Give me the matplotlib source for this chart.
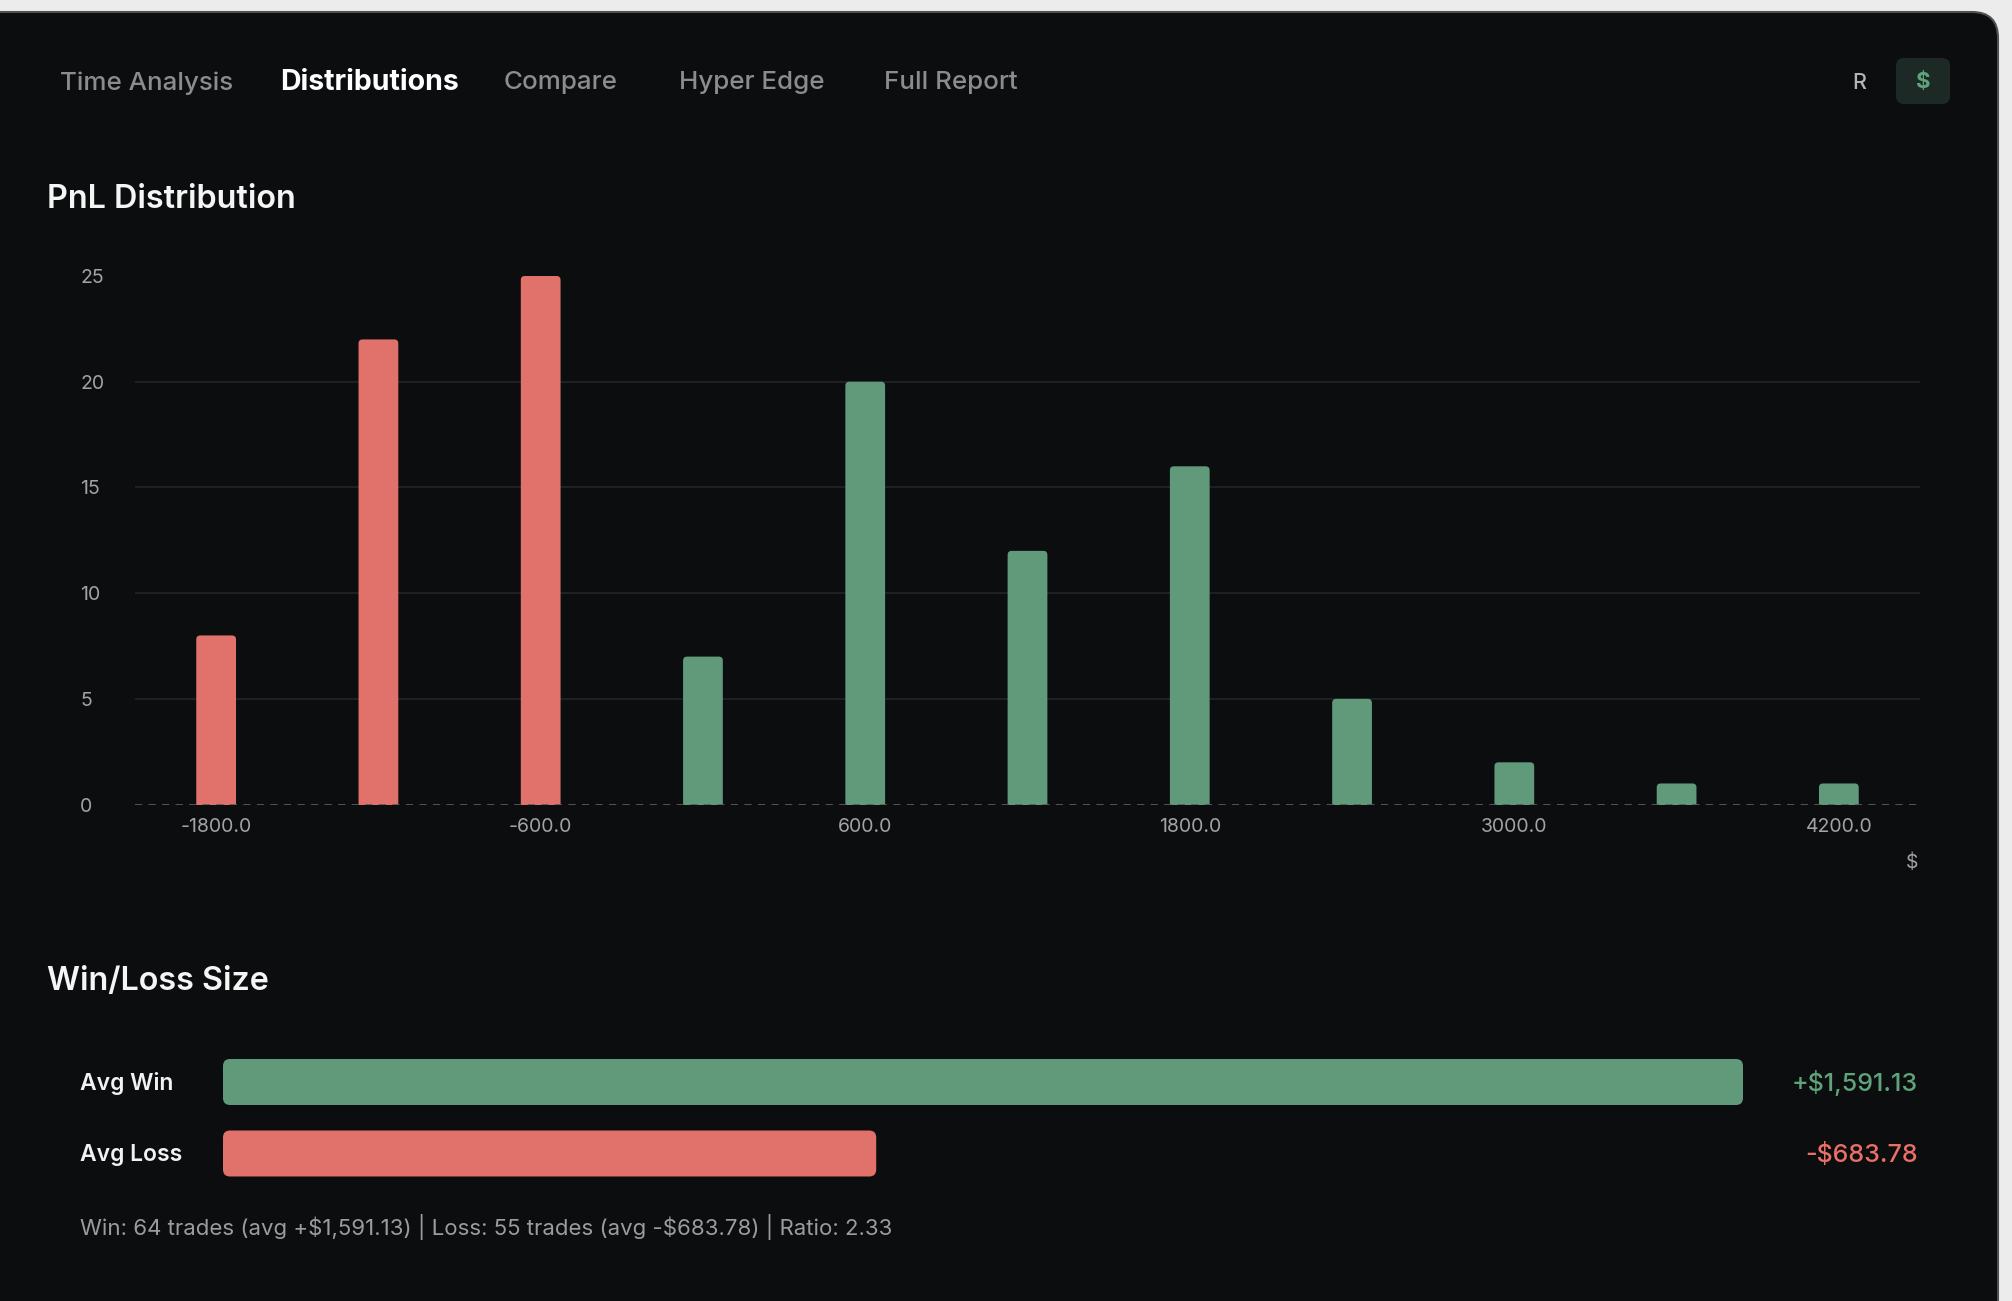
import matplotlib
matplotlib.use("Agg")
import matplotlib.pyplot as plt
from matplotlib.patches import FancyBboxPatch

plt.rcParams['font.family'] = ['Inter', 'DejaVu Sans']
plt.rcParams['text.parse_math'] = False  # lots of literal $ signs

# --- data ---
bin_centers = [-1800, -1200, -600, 0, 600, 1200, 1800, 2400, 3000, 3600, 4200]
bin_counts = [8, 22, 25, 7, 20, 12, 16, 5, 2, 1, 1]
y_ticks = [0, 5, 10, 15, 20, 25]
summary_labels = ["Avg Win", "Avg Loss"]
summary_values = [1591.13, 683.78]
win_trades = 64
loss_trades = 55
nav_items = ["Time Analysis", "Distributions", "Compare", "Hyper Edge", "Full Report"]
nav_active = "Distributions"

# colours
BG = '#0c0d0f'
RED = '#e1726b'
GREEN = '#609a7a'
GRID = '#242528'
TICK = '#a3a3a3'

W, H = 2012, 1301
fig = plt.figure(figsize=(W / 100, H / 100), dpi=100, facecolor='#ececec')


def frac(x0, y0, x1, y1):
    # pixel box (top-left origin) -> figure fraction rect
    return [x0 / W, 1 - y1 / H, (x1 - x0) / W, (y1 - y0) / H]


# background "window" in pixel coords
bg = fig.add_axes([0, 0, 1, 1])
bg.set_xlim(0, W)
bg.set_ylim(H, 0)
bg.axis('off')
bg.add_patch(FancyBboxPatch((-40, 12), 2038, 1400, boxstyle="round,pad=0,rounding_size=26",
                            fc=BG, ec='#505050', lw=1.5))

# nav bar
nav_x = [60, 280, 504, 679, 884]
for name, x in zip(nav_items, nav_x):
    active = name == nav_active
    bg.text(x, 83, name, fontsize=20.5 if active else 18.7,
            color='#ffffff' if active else '#8c8c8c',
            fontweight='bold' if active else 'medium', ha='left', va='center')
bg.text(1859, 83, 'R', fontsize=15.5, color='#b5b5b5', fontweight='medium', ha='center', va='center')
bg.add_patch(FancyBboxPatch((1896, 58), 54, 46, boxstyle="round,pad=0,rounding_size=8",
                            fc='#1c2925', ec='none'))
bg.text(1923, 82, '$', fontsize=16, color='#5fa37c', fontweight='bold', ha='center', va='center')

# section titles
bg.text(47, 199, 'PnL Distribution', fontsize=23.3, color='#f5f5f5', fontweight='semibold',
        ha='left', va='center')
bg.text(47, 981, 'Win/Loss Size', fontsize=23.3, color='#f5f5f5', fontweight='semibold',
        ha='left', va='center')

# --- PnL histogram ---
ax = fig.add_axes(frac(135, 276, 1920, 804.6))
ax.set_facecolor('none')
step = bin_centers[1] - bin_centers[0]
ax.set_xlim(bin_centers[0] - step / 2, bin_centers[-1] + step / 2)
ax.set_ylim(y_ticks[0], y_ticks[-1])
for s in ax.spines.values():
    s.set_visible(False)

for yv in y_ticks[1:-1]:
    ax.axhline(yv, color=GRID, lw=1.2, zorder=0)

bw = step * 0.245
# rounding: px -> data units
x_per_px = (bin_centers[-1] - bin_centers[0] + step) / 1785
y_per_px = (y_ticks[-1] - y_ticks[0]) / 528.6
r_px = 4
for c, n in zip(bin_centers, bin_counts):
    col = RED if c < 0 else GREEN
    ax.add_patch(FancyBboxPatch((c - bw / 2, -r_px * y_per_px), bw, n + r_px * y_per_px,
                                boxstyle=f"round,pad=0,rounding_size={r_px * x_per_px}",
                                mutation_aspect=y_per_px / x_per_px,
                                fc=col, ec='none', zorder=2))

ax.axhline(0, color='#5a5a5a', lw=1.3, dashes=(4, 3.5), zorder=3)

ax.set_xticks(bin_centers[::2])
ax.set_xticklabels([f"{v:.1f}" for v in bin_centers[::2]])
ax.set_yticks(y_ticks)
ax.tick_params(axis='x', length=0, pad=9.5, labelsize=14, labelcolor=TICK)
ax.tick_params(axis='y', length=0, pad=55 * 0.72, labelsize=14, labelcolor=TICK)
for lbl in ax.get_yticklabels():
    lbl.set_ha('left')
ax.text((1912 - 135) / 1785, (804.6 - 863) / 528.6, '$', transform=ax.transAxes,
        fontsize=14, color=TICK, ha='center', va='center')

# --- Win / Loss size bars ---
ax2 = fig.add_axes(frac(223, 1040, 1743, 1195))
ax2.set_facecolor('none')
ax2.axis('off')
ax2.set_xlim(0, max(summary_values))
unit = 71.5
ax2.set_ylim(1 + (1195 - 1153.5) / unit, -(1082 - 1040) / unit)
bars = ax2.barh(range(len(summary_values)), summary_values, height=46 / unit, color=[GREEN, RED])
x2_per_px = max(summary_values) / 1520
r2 = 7
for b in bars:
    x, y = b.get_xy()
    ax2.add_patch(FancyBboxPatch((x, y), b.get_width(), b.get_height(),
                                 boxstyle=f"round,pad=0,rounding_size={r2 * x2_per_px}",
                                 mutation_aspect=(1 / unit) / x2_per_px,
                                 fc=b.get_facecolor(), ec='none'))
    b.remove()

val_text = [f"+${summary_values[0]:,.2f}", f"-${summary_values[1]:,.2f}"]
val_col = ['#5fa37c', '#ea6f66']
for i, (lab, vt, vc) in enumerate(zip(summary_labels, val_text, val_col)):
    ax2.text((80 - 223) / 1520, i + 0.02, lab, transform=ax2.get_yaxis_transform(),
             fontsize=16.5, color='#f2f2f2', fontweight='semibold', ha='left', va='center')
    ax2.text((1918 - 223) / 1520, i + 0.02, vt, transform=ax2.get_yaxis_transform(),
             fontsize=18, color=vc, fontweight='medium', ha='right', va='center')

ratio = summary_values[0] / summary_values[1]
footer = (f"Win: {win_trades} trades (avg +${summary_values[0]:,.2f}) | "
          f"Loss: {loss_trades} trades (avg -${summary_values[1]:,.2f}) | Ratio: {ratio:.2f}")
bg.text(80, 1227, footer, fontsize=16, color='#9c9c9c', ha='left', va='center')

fig.savefig('out.png', dpi=100, facecolor=fig.get_facecolor())
